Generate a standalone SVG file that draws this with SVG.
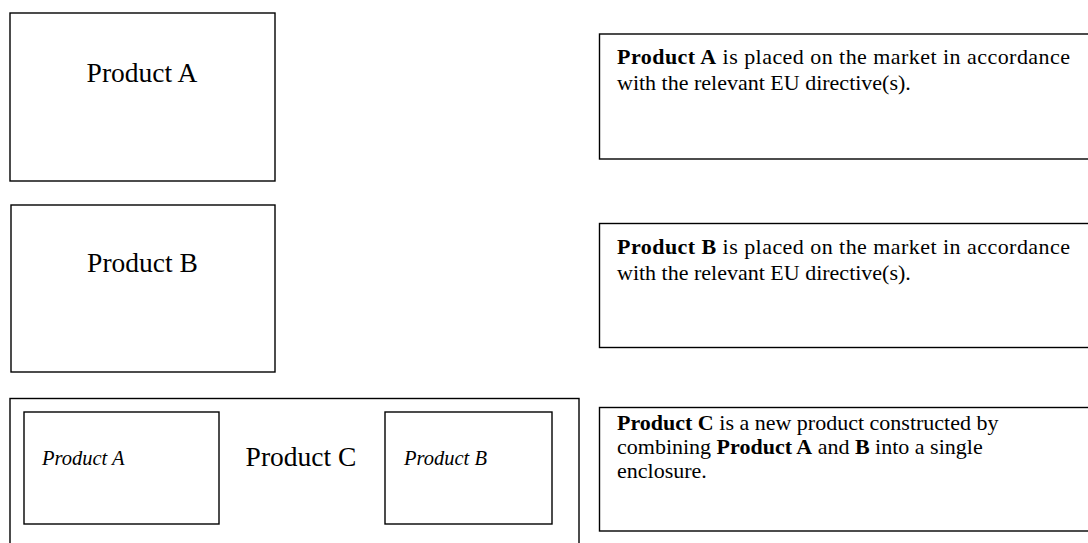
<svg xmlns="http://www.w3.org/2000/svg" width="1088" height="543" viewBox="0 0 1088 543">
<style>
.box{fill:#fff;stroke:#000;stroke-width:1.4}
.t{font-family:"Liberation Serif","Times New Roman",serif;fill:#000}
.big{font-size:27.5px}
.it{font-size:20.5px;font-style:italic}
.p{font-size:22px}
.b{font-weight:bold}
</style>
<rect width="1088" height="543" fill="#fff"/>
<g id="productA">
<rect class="box" x="10" y="13" width="265" height="168"/>
<text class="t big" x="142" y="82" text-anchor="middle">Product A</text>
</g>
<g id="productB">
<rect class="box" x="11" y="205" width="264" height="167"/>
<text class="t big" x="142.5" y="272" text-anchor="middle">Product B</text>
</g>
<g id="productC">
<rect class="box" x="10" y="398.5" width="569" height="150"/>
<text class="t big" x="301" y="466" text-anchor="middle">Product C</text>
<g id="productC-A">
<rect class="box" x="24" y="412" width="195" height="112"/>
<text class="t it" x="42" y="465">Product A</text>
</g>
<g id="productC-B">
<rect class="box" x="385" y="412" width="167" height="112"/>
<text class="t it" x="404" y="465">Product B</text>
</g>
</g>
<g id="noteA">
<rect class="box" x="599.5" y="34" width="500" height="125"/>
<text class="t p" x="617" y="64" textLength="453" lengthAdjust="spacing"><tspan class="b">Product A</tspan> is placed on the market in accordance</text>
<text class="t p" x="617" y="90">with the relevant EU directive(s).</text>
</g>
<g id="noteB">
<rect class="box" x="599.5" y="223.5" width="500" height="124"/>
<text class="t p" x="617" y="254" textLength="453" lengthAdjust="spacing"><tspan class="b">Product B</tspan> is placed on the market in accordance</text>
<text class="t p" x="617" y="280">with the relevant EU directive(s).</text>
</g>
<g id="noteC">
<rect class="box" x="599.5" y="407.5" width="500" height="123.5"/>
<text class="t p" x="617" y="430"><tspan class="b">Product C</tspan> is a new product constructed by</text>
<text class="t p" x="617" y="454">combining <tspan class="b">Product A</tspan> and <tspan class="b">B</tspan> into a single</text>
<text class="t p" x="617" y="478">enclosure.</text>
</g>
<g id="connectors"></g>
</svg>
